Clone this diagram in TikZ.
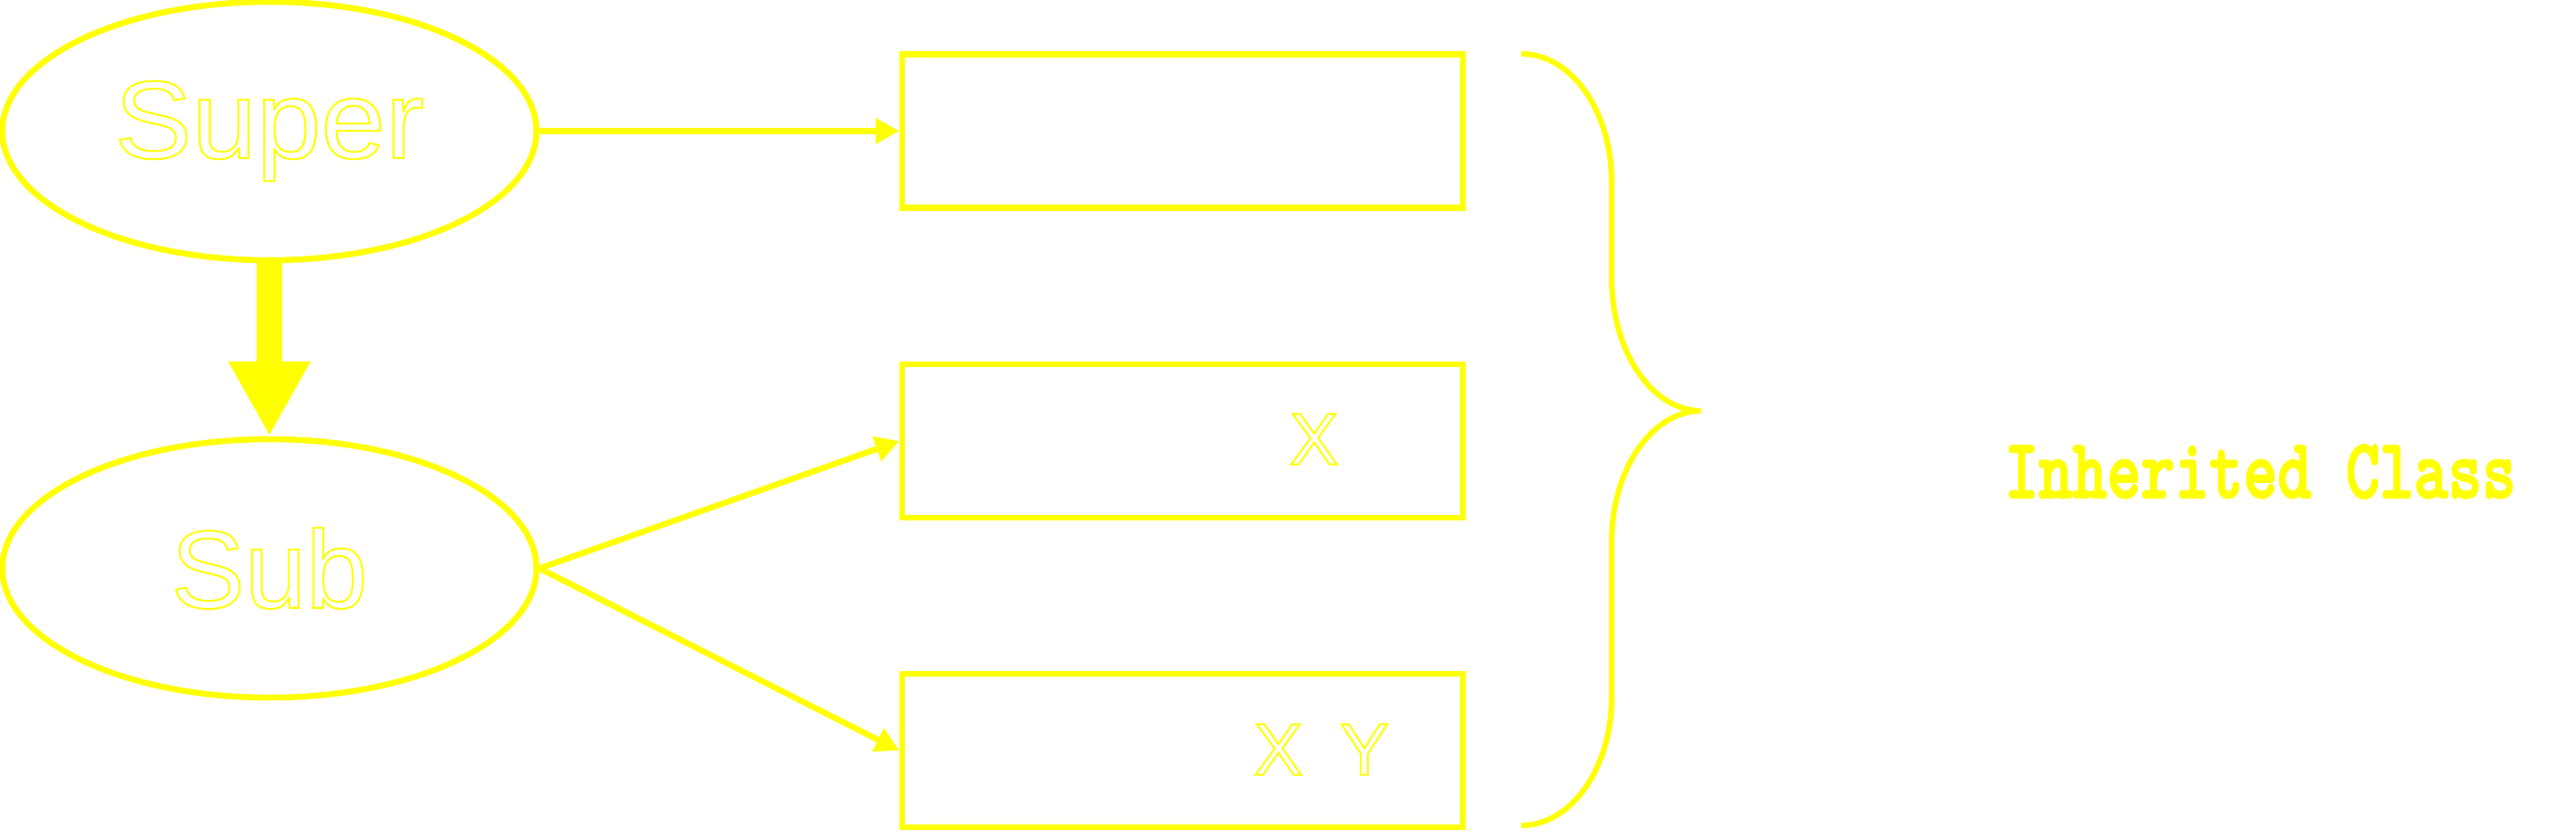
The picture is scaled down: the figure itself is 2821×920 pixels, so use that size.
\documentclass[tikz,border=0pt]{standalone}
\usepackage{fontspec}
\usepackage{graphicx}
\setmainfont{Liberation Sans}
\usetikzlibrary{arrows.meta,shapes.geometric}
\definecolor{yel}{RGB}{255,255,0}
\newcommand{\hollowtext}[1]{\special{pdf:literal direct 1 Tr 2 w}#1\special{pdf:literal direct 0 Tr}}
\newcommand{\heavytext}[1]{\special{pdf:literal direct 2 Tr 2.2 w}#1\special{pdf:literal direct 0 Tr}}
\tikzset{
  cls/.style={ellipse, draw=yel, line width=6.5pt, inner sep=0pt,
    minimum width=585pt, minimum height=283pt, text=yel,
    font=\fontsize{121}{121}\selectfont},
  membox/.style={rectangle, draw=yel, line width=6.5pt, inner sep=0pt,
    minimum width=614pt, minimum height=168pt},
  memtext/.style={inner sep=0pt, text=yel, font=\fontsize{80}{80}\selectfont},
  conn/.style={draw=yel, line width=6.5pt, -{Triangle[length=26pt,width=27pt]}},
  inherit/.style={draw=yel, line width=28pt, -{Triangle[length=82pt,width=84pt]}},
  bracepath/.style={draw=yel, line width=6pt},
  label/.style={inner sep=0pt, text=yel, anchor=base west,
    font=\fontsize{93}{93}\selectfont\ttfamily\bfseries}
}
\begin{document}
\begin{tikzpicture}[x=1pt, y=-1pt]
  \useasboundingbox (0,0) rectangle (2821,920);
  \node[cls] (super) at (295,143.5) {\scalebox{1.05}[1]{\hollowtext{Super}}};
  \node[cls] (sub) at (295,622.5) {\hollowtext{Sub}};
  \node[membox] (b1) at (1295,143.5) {};
  \node[membox] (b2) at (1295,483) {};
  \node[membox] (b3) at (1295,822) {};
  \node[memtext] (t2) at (1439,481) {\hollowtext{X}};
  \node[memtext] (t3) at (1447,821) {\hollowtext{X\hspace{41pt}Y}};
  \draw[conn] (super.east) -- (b1.west);
  \draw[conn] (sub.east) -- (b2.west);
  \draw[conn] (sub.east) -- (b3.west);
  \draw[inherit] (super.south) -- (sub.north);
  \coordinate (br1) at (1666,59);
  \coordinate (br2) at (1765,200);
  \coordinate (br3) at (1765,305);
  \coordinate (brtip) at (1863,450);
  \coordinate (br4) at (1765,593);
  \coordinate (br5) at (1765,763);
  \coordinate (br6) at (1666,904);
  \draw[bracepath] (br1) .. controls (1721,59) and (1765,122) .. (br2)
    -- (br3) .. controls (1765,385) and (1809,450) .. (brtip)
    .. controls (1809,450) and (1765,514) .. (br4)
    -- (br5) .. controls (1765,841) and (1721,904) .. (br6);
  \node[label] (inh) at (2195,545) {\scalebox{0.765}[1]{\heavytext{Inherited Class}}};
\end{tikzpicture}
\end{document}
